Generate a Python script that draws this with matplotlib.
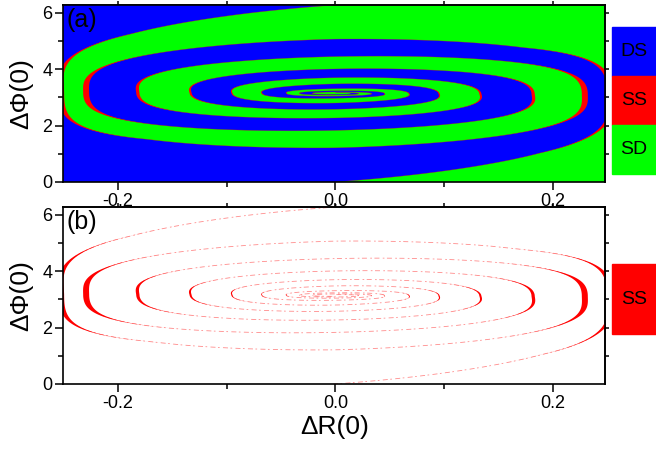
import numpy as np
import matplotlib
matplotlib.use("Agg")
import matplotlib.pyplot as plt

# ---- data ----
# horizontal half-widths |ΔR| of the basin-boundary spiral vs quarter-turn index s
s_hx = [-5, -3, -1, 1, 3, 5, 7, 9, 11, 13, 15, 17, 19]
hx = [0.5, 0.31, 0.2515, 0.229, 0.1815, 0.133, 0.095, 0.0675, 0.045, 0.033, 0.021, 0.014, 0.009]
# vertical half-heights |ΔΦ-π| of the spiral vs quarter-turn index s
s_hv = [-6, -4, -2, -1.5, -1, -0.5, 0, 2, 4, 6, 8, 10, 12, 14, 16, 18]
hv = [40.0, 12.0, 3.14, 2.6, 2.35, 2.0, 1.93, 1.31, 0.87, 0.56, 0.34, 0.17, 0.095, 0.055, 0.03, 0.018]
# bluntness of the rings' ends vs quarter-turn index s
s_ey = [-5, 1, 5, 19]
ey = [0.55, 0.62, 0.75, 0.85]
# width (in ΔR) of the SS layer on the boundaries
s_red = [-3, -1, 1, 3, 5, 7, 9, 11, 19]
red_w = [0.0045, 0.0045, 0.0055, 0.003, 0.0019, 0.0011, 0.0007, 0.0004, 0.0002]

legend_a = ["DS", "SS", "SD"]
legend_b = ["SS"]
xticks = [-0.2, 0.0, 0.2]
yticks = [0, 2, 4, 6]

BLUE, RED, GREEN = "#0000ff", "#ff0000", "#00ff00"
PHI0 = np.pi


def lg(s, sp, vp):
    return np.exp(np.interp(s, sp, np.log(vp)))


def spow(v, e):
    return np.sign(v) * np.abs(v) ** e


def curve(s, shift=0.0):
    """boundary curve C_B(s) (radius index s+shift, angle of index s)"""
    t = np.pi / 2 + s * np.pi / 2
    a = lg(s + shift, s_hx, hx)
    b = lg(s + shift, s_hv, hv)
    e = np.interp(s + shift, s_ey, ey)
    return a * np.cos(t), b * spow(np.sin(t), e)


ss = np.linspace(-5, 16, 24000)
tt = np.pi / 2 + ss * np.pi / 2

plt.rcParams["font.family"] = ["Liberation Sans", "DejaVu Sans"]
fig = plt.figure(figsize=(6.56, 4.51), dpi=100)
axA = fig.add_axes([0.0965, 0.5965, 0.8265, 0.3925])
axB = fig.add_axes([0.0965, 0.1486, 0.8265, 0.3925])


def red_layers(ax, thin_alpha, thin_lw, dashed=False):
    for sign in (1, -1):
        x, y = curve(ss)
        x, y = sign * x, sign * y
        w = lg(ss, s_red, red_w) / 2 * np.abs(np.cos(tt)) ** 8
        px = np.concatenate([x + w, (x - w)[::-1]])
        py = np.concatenate([y, y[::-1]]) + PHI0
        ax.fill(px, py, color=RED, lw=0, zorder=3)
        kw = dict(color=RED, lw=thin_lw, alpha=thin_alpha, zorder=2)
        if dashed:
            kw["dashes"] = (6, 3, 2, 4)
        ax.plot(x, y + PHI0, **kw)


# panel (a): SD background, DS spiral band
axA.set_facecolor(GREEN)
xo, yo = curve(ss)
xi, yi = curve(ss, shift=2)
axA.fill(np.concatenate([xo, xi[::-1]]), np.concatenate([yo, yi[::-1]]) + PHI0,
         color=BLUE, lw=0, zorder=1)
red_layers(axA, 0.55, 0.35)

# panel (b): SS only
axB.set_facecolor("white")
red_layers(axB, 0.45, 0.6, dashed=True)

for ax, lab in ((axA, "(a)"), (axB, "(b)")):
    ax.set_xlim(-0.25, 0.248)
    ax.set_ylim(0, 2 * np.pi)
    ax.set_xticks(xticks)
    ax.set_xticks([-0.1, 0.1], minor=True)
    ax.set_yticks(yticks)
    ax.set_yticks([1, 3, 5], minor=True)
    ax.set_xticklabels([f"{v:.1f}" for v in xticks])
    ax.tick_params(which="major", direction="out", length=6, width=1.1, labelsize=13, pad=2)
    ax.tick_params(which="minor", direction="out", length=3.5, width=1.1)
    for sp in ax.spines.values():
        sp.set_linewidth(1.2)
        sp.set_zorder(10)
    ax.set_ylabel("ΔΦ(0)", fontsize=19, labelpad=6)
    ax.text(0.005, 0.985, lab, transform=ax.transAxes, fontsize=18, va="top", ha="left", zorder=11)
    sx = ax.secondary_xaxis("top")
    sx.set_xticks([-0.2, -0.1, 0.0, 0.1, 0.2])
    sx.set_xticklabels([])
    sx.tick_params(direction="out", length=3, width=1.1)
    sx.spines["top"].set_linewidth(1.2)
    sy = ax.secondary_yaxis("right")
    sy.set_yticks([1, 2, 3, 4, 5, 6])
    sy.set_yticklabels([])
    sy.tick_params(direction="out", length=3, width=1.1)
    sy.spines["right"].set_linewidth(1.2)

axB.set_xlabel("ΔR(0)", fontsize=19, labelpad=2)

# legends (colour boxes to the right)
W = 656.0
H = 451.0


def box(y0, y1, color, text):
    fig.patches.append(plt.Rectangle((612 / W, 1 - y1 / H), 44 / W, (y1 - y0) / H,
                                     transform=fig.transFigure, color=color, zorder=1))
    fig.text(634 / W, 1 - (y0 + y1) / 2 / H, text, ha="center", va="center", fontsize=14)


box(27, 76, BLUE, legend_a[0])
box(76, 125, RED, legend_a[1])
box(125, 174, GREEN, legend_a[2])
box(264, 334, RED, legend_b[0])

fig.savefig("out.png", dpi=100)
